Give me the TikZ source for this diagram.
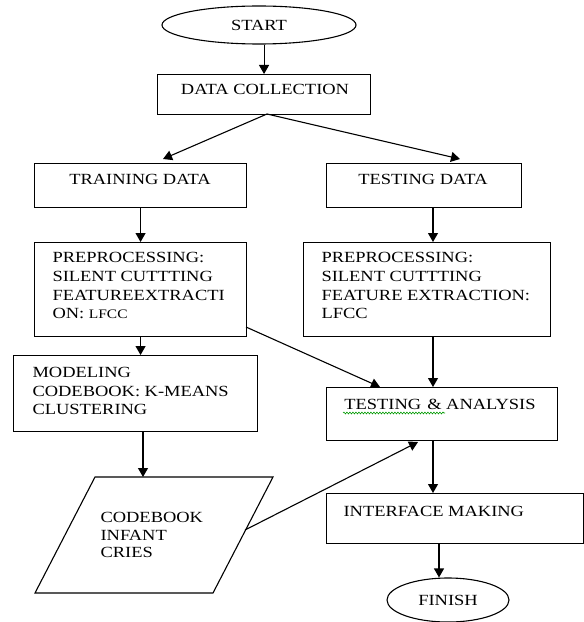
\documentclass[tikz,border=0pt]{standalone}
\usepackage{fontspec}
\setmainfont{Liberation Serif}[FakeStretch=1.19]
\usetikzlibrary{arrows.meta,shapes.geometric,decorations.pathmorphing}
\newcommand\myfs{\fontsize{15.5bp}{18.7bp}\selectfont}
\begin{document}
\begin{tikzpicture}[x=1bp,y=-1bp,line width=1.1bp,
  box/.style={draw,rectangle,anchor=north west,inner sep=0},
  oval/.style={draw,ellipse,inner sep=0,font=\myfs},
  txt/.style={inner sep=0,font=\myfs},
  ml/.style={inner sep=0,font=\myfs,align=left,anchor=north west},
  arr/.style={-{Triangle[length=9bp,width=10bp]}}]
\useasboundingbox (0,0) rectangle (584,622);
% nodes
\node[oval,minimum width=194bp,minimum height=38bp] (start) at (259,25) {START};
\node[box,minimum width=213bp,minimum height=40bp] (dc) at (157,74) {};
\node[txt] (dctxt) at (265,89) {DATA COLLECTION};
\node[box,minimum width=212bp,minimum height=44bp] (train) at (34,163) {};
\node[txt] (traintxt) at (140,179) {TRAINING DATA};
\node[box,minimum width=195bp,minimum height=44bp] (test) at (326,163) {};
\node[txt] (testtxt) at (423,179) {TESTING DATA};
\node[box,minimum width=212bp,minimum height=94bp] (pre1) at (34,242) {};
\node[ml] (pre1txt) at (52,252) {PREPROCESSING:\\SILENT CUTTTING\\FEATUREEXTRACTI\\ON: {\fontsize{13bp}{13bp}\selectfont LFCC}};
\node[box,minimum width=247bp,minimum height=94bp] (pre2) at (303,242) {};
\node[ml] (pre2txt) at (321,252) {PREPROCESSING:\\SILENT CUTTTING\\FEATURE EXTRACTION:\\LFCC};
\node[box,minimum width=244bp,minimum height=76bp] (model) at (13,355) {};
\node[ml,font=\fontsize{15.5bp}{18.5bp}\selectfont] (modeltxt) at (32,367) {MODELING\\CODEBOOK: K-MEANS\\CLUSTERING};
\node[box,minimum width=231bp,minimum height=53bp] (ta) at (326,387) {};
\node[txt] (tatxt) at (440,404) {TESTING\hspace{6bp}\& ANALYSIS};
\draw[green!60!black,line width=0.6bp,decorate,decoration={snake,amplitude=0.9bp,segment length=3bp}] (343,413) -- (445,413);
\coordinate (cbtl) at (95,477);
\coordinate (cbtr) at (273,477);
\coordinate (cbbr) at (213,593);
\coordinate (cbbl) at (35,593);
\draw (cbtl) -- (cbtr) -- (cbbr) -- (cbbl) -- cycle;
\node[ml,font=\fontsize{15.5bp}{17.5bp}\selectfont] (cbtxt) at (100,512) {CODEBOOK\\INFANT\\CRIES};
\node[box,minimum width=257bp,minimum height=50bp] (im) at (326,493) {};
\node[txt,anchor=west] (imtxt) at (343,511) {INTERFACE MAKING};
\node[oval,minimum width=122bp,minimum height=44bp] (finish) at (448,600) {FINISH};
% helper coordinates
\coordinate (dcb) at (267,114);
\coordinate (trtip) at (163,159);
\coordinate (tetip) at (460,159);
\coordinate (tsx) at (433,0);
\coordinate (p1r) at (246,327);
\coordinate (tat1) at (380,387);
\coordinate (mx) at (143,0);
\coordinate (cbr) at (245,530);
\coordinate (tat2) at (418,442);
\coordinate (fx) at (439,0);
% connectors
\draw[arr] (start.south -| dc.north) -- (dc.north);
\draw[arr] (dcb) -- (trtip);
\draw[arr] (dcb) -- (tetip);
\draw[arr] (train.south) -- (pre1.north);
\draw[arr] (test.south -| tsx) -- (pre2.north -| tsx);
\draw[arr] (pre1.south) -- (model.north -| pre1.south);
\draw[arr] (pre2.south -| tsx) -- (ta.north -| tsx);
\draw[arr] (p1r) -- (tat1);
\draw[arr] (model.south -| mx) -- (cbtl -| mx);
\draw[arr] (cbr) -- (tat2);
\draw[arr] (ta.south -| tsx) -- (im.north -| tsx);
\draw[arr] (im.south -| fx) -- (finish.north -| fx);
\end{tikzpicture}
\end{document}
